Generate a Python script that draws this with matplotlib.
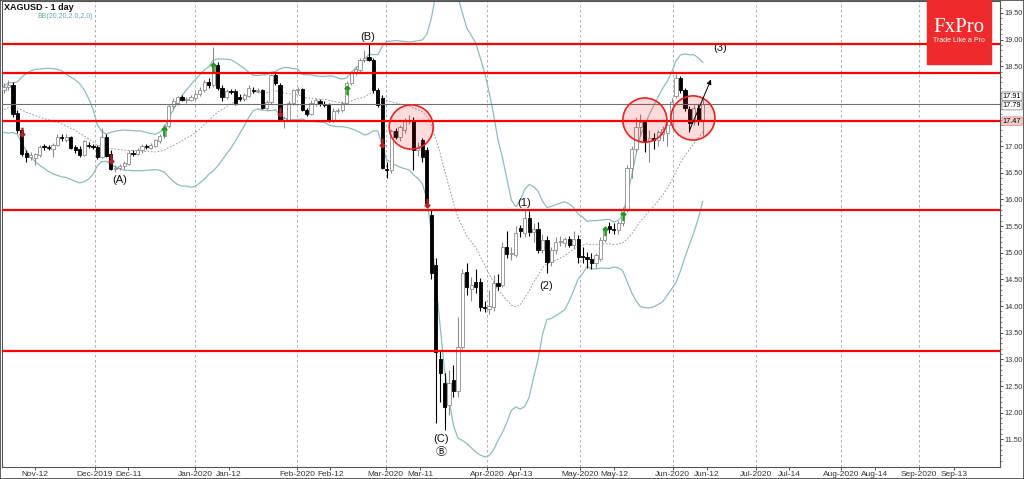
import numpy as np
import pandas as pd
import matplotlib
matplotlib.use('Agg')
import matplotlib.pyplot as plt
from matplotlib.patches import Ellipse, Rectangle

plt.rcParams['font.family'] = ['Liberation Sans', 'DejaVu Sans']

# daily XAGUSD bars, 1 Nov 2019 .. 9 Jun 2020 (index = bar number)
opens = [18.05, 18.12, 18.15, 17.62, 17.30, 16.88, 16.80, 16.78, 16.84, 16.99,
         16.98, 16.95, 17.03, 17.16, 17.12, 17.17, 16.98, 16.95, 16.84, 17.02,
         17.00, 16.98, 16.80, 17.18, 16.86, 16.58, 16.60, 16.63, 16.66, 16.87,
         16.85, 16.92, 17.00, 16.97, 17.00, 17.10, 17.20, 17.38, 17.76, 17.82,
         17.92, 17.86, 17.86, 17.90, 17.98, 18.06, 18.20, 18.15, 18.52, 18.10,
         17.92, 18.04, 18.04, 17.92, 17.88, 17.94, 18.06, 18.04, 18.05, 17.72,
         17.83, 18.33, 18.15, 17.49, 17.50, 17.81, 18.05, 18.07, 17.68, 17.60,
         17.80, 17.84, 17.80, 17.78, 17.49, 17.66, 17.68, 17.82, 18.19, 18.39,
         18.43, 18.62, 18.68, 18.62, 18.05, 17.90, 16.58, 16.56, 17.28, 17.18,
         17.30, 17.48, 17.50, 16.92, 17.12, 16.93, 15.71, 14.77, 13.00, 12.56,
         12.15, 12.62, 12.40, 13.24, 14.64, 14.32, 14.45, 14.45, 13.98, 13.95,
         13.98, 14.43, 14.40, 15.11, 14.97, 14.96, 15.46, 15.37, 15.65, 15.39,
         15.45, 15.05, 15.24, 14.83, 15.05, 15.20, 15.18, 15.26, 15.15, 15.26,
         14.93, 14.92, 14.88, 14.80, 14.88, 15.24, 15.50, 15.45, 15.42, 15.55,
         15.80, 16.60, 16.95, 17.36, 17.45, 17.10, 17.15, 17.12, 17.22, 17.25,
         17.40, 17.95, 18.28, 18.06, 17.70, 17.45, 17.72, 17.49]
highs = [18.18, 18.25, 18.20, 17.68, 17.32, 16.92, 16.90, 16.88, 17.02, 17.04,
         17.03, 17.06, 17.22, 17.22, 17.22, 17.20, 17.02, 17.00, 17.12, 17.08,
         17.05, 17.02, 17.34, 17.22, 16.92, 16.64, 16.66, 16.72, 16.92, 16.92,
         16.96, 17.05, 17.04, 17.06, 17.14, 17.22, 17.42, 17.80, 17.90, 17.95,
         17.96, 17.92, 17.96, 18.02, 18.12, 18.24, 18.28, 18.86, 18.58, 18.14,
         18.08, 18.08, 18.08, 17.98, 18.00, 18.14, 18.12, 18.10, 18.08, 17.86,
         18.36, 18.38, 18.18, 17.56, 17.84, 18.08, 18.12, 18.10, 17.72, 17.86,
         17.90, 17.88, 17.84, 17.82, 17.72, 17.72, 17.84, 18.22, 18.42, 18.50,
         18.66, 18.80, 18.94, 18.66, 18.10, 17.96, 16.70, 17.32, 17.34, 17.40,
         17.52, 17.59, 17.54, 17.08, 17.16, 16.98, 15.80, 14.90, 13.15, 12.75,
         12.80, 12.90, 13.80, 14.70, 14.80, 14.55, 14.70, 14.52, 14.10, 14.30,
         14.58, 14.60, 15.20, 15.40, 15.10, 15.50, 15.52, 15.82, 15.78, 15.55,
         15.58, 15.36, 15.32, 15.10, 15.30, 15.32, 15.30, 15.32, 15.40, 15.34,
         15.10, 15.02, 15.00, 15.00, 15.30, 15.50, 15.58, 15.56, 15.60, 15.86,
         16.65, 17.00, 17.55, 17.60, 17.50, 17.30, 17.24, 17.30, 17.38, 17.50,
         17.90, 18.35, 18.32, 18.10, 17.76, 17.78, 17.80, 17.91]
lows = [18.00, 18.05, 17.55, 17.25, 16.82, 16.70, 16.75, 16.65, 16.80, 16.93,
        16.92, 16.80, 17.00, 17.10, 17.08, 16.94, 16.88, 16.80, 16.82, 16.96,
        16.95, 16.76, 16.78, 16.80, 16.55, 16.52, 16.55, 16.58, 16.64, 16.82,
        16.83, 16.88, 16.95, 16.94, 16.98, 17.06, 17.15, 17.35, 17.70, 17.78,
        17.84, 17.82, 17.84, 17.86, 17.95, 18.02, 18.10, 18.12, 18.05, 17.85,
        17.88, 17.98, 17.78, 17.84, 17.85, 17.92, 18.00, 18.00, 17.70, 17.68,
        17.80, 18.15, 17.47, 17.35, 17.48, 17.78, 17.98, 17.66, 17.56, 17.58,
        17.76, 17.76, 17.74, 17.46, 17.46, 17.62, 17.64, 17.80, 18.15, 18.34,
        18.40, 18.58, 18.60, 18.00, 17.74, 16.58, 16.40, 16.50, 17.14, 17.10,
        17.24, 17.42, 16.55, 16.82, 16.70, 15.88, 14.50, 11.80, 12.20, 11.68,
        11.95, 12.30, 12.30, 13.20, 14.20, 14.10, 14.25, 13.90, 13.88, 13.86,
        13.90, 14.30, 14.36, 14.90, 14.86, 14.92, 15.30, 15.30, 15.32, 15.20,
        15.00, 15.00, 14.62, 14.75, 14.98, 15.12, 15.10, 15.10, 15.08, 14.80,
        14.80, 14.72, 14.70, 14.72, 14.84, 15.20, 15.38, 15.36, 15.36, 15.50,
        15.76, 16.40, 16.90, 17.20, 16.90, 16.70, 16.95, 17.00, 17.10, 17.00,
        17.36, 17.90, 18.00, 17.66, 17.26, 17.40, 17.40, 17.20]
closes = [18.12, 18.15, 17.60, 17.30, 16.85, 16.80, 16.83, 16.86, 16.99, 16.98,
          16.97, 17.03, 17.17, 17.15, 17.18, 16.96, 16.93, 16.84, 17.09, 17.00,
          16.98, 16.80, 17.18, 16.82, 16.58, 16.60, 16.63, 16.68, 16.87, 16.85,
          16.92, 17.00, 16.98, 17.03, 17.12, 17.20, 17.38, 17.76, 17.85, 17.92,
          17.86, 17.88, 17.93, 17.98, 18.06, 18.20, 18.15, 18.52, 18.10, 17.92,
          18.04, 18.02, 17.81, 17.88, 17.96, 18.10, 18.04, 18.06, 17.72, 17.83,
          18.33, 18.18, 17.49, 17.52, 17.81, 18.05, 18.07, 17.68, 17.60, 17.82,
          17.86, 17.80, 17.78, 17.49, 17.66, 17.68, 17.82, 18.19, 18.39, 18.45,
          18.62, 18.66, 18.62, 18.05, 17.77, 16.60, 16.56, 17.28, 17.18, 17.36,
          17.48, 17.50, 16.93, 16.96, 16.80, 15.93, 14.62, 13.14, 12.75, 12.11,
          12.56, 12.40, 13.24, 14.62, 14.36, 14.40, 14.36, 13.98, 13.96, 14.00,
          14.43, 14.38, 15.11, 14.97, 15.00, 15.37, 15.40, 15.65, 15.39, 15.45,
          15.05, 15.24, 14.83, 15.05, 15.20, 15.22, 15.26, 15.15, 15.26, 14.93,
          14.92, 14.88, 14.80, 14.95, 15.24, 15.43, 15.45, 15.42, 15.55, 15.80,
          16.60, 16.95, 17.36, 17.45, 17.08, 17.15, 17.12, 17.26, 17.32, 17.40,
          17.83, 18.28, 18.06, 17.72, 17.44, 17.72, 17.49, 17.79]
# October 2019 closes, only used to warm up BB(20)
warmup_closes = [17.55, 17.52, 17.48, 17.56, 17.62, 17.40, 17.55, 17.54, 17.50, 17.52,
                 17.55, 17.58, 17.72, 17.95, 17.85, 17.78, 17.88, 18.02, 18.10]

levels = [18.92, 18.37, 17.47, 15.80, 13.16]
last_price = 17.79
ask_price = 17.91
level_tag = 17.47

buy_idx = [36, 47, 77, 135, 139]
buy_px = [17.29, 18.49, 18.05, 15.41, 15.69]
sell_idx = [4, 24, 62, 85, 95]
sell_px = [17.27, 16.76, 17.64, 17.06, 15.94]

wave_txt = ['(A)', '(B)', '(C)', '\u24b7', '(1)', '(2)', '(3)']
wave_x = [26.1, 81.8, 98.2, 98.2, 116.9, 121.8, 160.9]
wave_y = [16.37, 19.05, 11.51, 11.26, 15.94, 14.38, 18.84]

circ_x = [91.5, 144.0, 154.8]
circ_y = [17.36, 17.49, 17.53]

month_pos = [20.45, 42.9, 65.8, 85.8, 108.5, 129.4, 150.3, 169.0, 188.1, 205.6]
month_lbl = ['Dec-2019', 'Jan-2020', 'Feb-2020', 'Mar-2020', 'Apr-2020',
             'May-2020', 'Jun-2020', 'Jul-2020', 'Aug-2020', 'Sep-2020']
mid_pos = [7.0, 27.9, 50.6, 73.3, 93.5, 116.0, 137.1, 158.0, 176.4, 195.7, 213.5]
mid_lbl = ['Nov-12', 'Dec-11', 'Jan-12', 'Feb-12', 'Mar-11', 'Apr-13',
           'May-12', 'Jun-12', 'Jul-14', 'Aug-14', 'Sep-13']

price_ticks = [11.5, 12.0, 12.5, 13.0, 13.5, 14.0, 14.5, 15.0, 15.5, 16.0,
               16.5, 17.0, 17.5, 18.0, 18.5, 19.0, 19.5]
covered = [17.5, 18.0]   # hidden behind the price tags

o = np.array(opens)
h = np.array(highs)
l = np.array(lows)
c = np.array(closes)
n = len(c)
x = np.arange(n)

# bollinger bands 20, 2
s = pd.Series(warmup_closes + closes)
mid = s.rolling(20).mean().values[len(warmup_closes):]
sd = s.rolling(20).std(ddof=0).values[len(warmup_closes):]
upper = mid + 2 * sd
lower = mid - 2 * sd

fig = plt.figure(figsize=(10.24, 4.79), dpi=100)
ax = fig.add_axes([2/1024, 12/479, 998/1024, 466/479])

for p in month_pos:
    ax.axvline(p, color='#a0a0a0', lw=0.6, ls=(0, (3, 3)), zorder=0)

ax.plot(x, upper, color='#8dbdbf', lw=0.9, zorder=1)
ax.plot(x, lower, color='#8dbdbf', lw=0.9, zorder=1)
ax.plot(x, mid, color='#8a8a8a', lw=0.6, ls=(0, (2, 2)), zorder=1)

up = c >= o
dn = ~up
body = np.maximum(np.abs(c - o), 0.02)
ax.vlines(x[up], l[up], h[up], color='#8c8c8c', lw=0.8, zorder=2)
ax.vlines(x[dn], l[dn], h[dn], color='black', lw=0.8, zorder=2)
ax.bar(x[up], body[up], bottom=np.minimum(o, c)[up], width=0.72,
       color='white', edgecolor='#8c8c8c', lw=0.6, zorder=3)
ax.bar(x[dn], body[dn], bottom=np.minimum(o, c)[dn], width=0.72,
       color='black', edgecolor='black', lw=0.6, zorder=3)

ax.plot(buy_idx, buy_px, ls='none', marker=r'$\uparrow$', ms=6, color='#1f9a1f', zorder=4)
ax.plot(sell_idx, sell_px, ls='none', marker=r'$\downarrow$', ms=6, color='#b22222', zorder=4)

for lv in levels:
    ax.axhline(lv, color='#ff0000', lw=1.6, zorder=5)
ax.axhline(last_price, color='#707070', lw=0.8, zorder=4)

for cx, cy in zip(circ_x, circ_y):
    ax.add_patch(Ellipse((cx, cy), 9.9, 0.83, facecolor=(1, 0, 0, 0.14),
                         edgecolor='#ee2222', lw=1.2, zorder=6))

ax.annotate('', xy=(159.1, 18.3), xytext=(153.8, 17.25),
            arrowprops=dict(arrowstyle='-|>', color='black', lw=0.7,
                            mutation_scale=7), zorder=7)

for t, wx, wy in zip(wave_txt, wave_x, wave_y):
    fam = ['Noto Sans CJK SC', 'DejaVu Sans'] if t == '\u24b7' else ['Liberation Sans', 'DejaVu Sans']
    ax.text(wx, wy, t, fontsize=8, ha='center', va='center', color='#111', family=fam)

ax.set_xlim(-0.45, 223.8)
ax.set_ylim(10.98, 19.725)

ax.yaxis.tick_right()
ax.set_yticks(price_ticks)
ax.set_yticklabels(['' if v in covered else '%.2f' % v for v in price_ticks])
ax.set_yticks(np.arange(11.1, 19.7, 0.1), minor=True)
ax.tick_params(axis='y', which='major', length=2.5, width=0.6, labelsize=5.3,
               colors='#333', pad=0.5)
ax.tick_params(axis='y', which='minor', length=1.5, width=0.5, colors='#555')

ax.set_xticks(month_pos + mid_pos)
ax.set_xticklabels(month_lbl + mid_lbl)
ax.tick_params(axis='x', length=2, width=0.6, labelsize=6, colors='#333', pad=1)

for sp in ax.spines.values():
    sp.set_color('#555')
    sp.set_linewidth(0.8)

box = dict(boxstyle='round,pad=0.12', fc='white', ec='#888', lw=0.6)
ax.annotate('%.2f' % ask_price, xy=(1.0, ask_price), xycoords=('axes fraction', 'data'),
            xytext=(2, 1), textcoords='offset points', fontsize=5.3, va='center',
            bbox=box, zorder=8, annotation_clip=False)
ax.annotate('%.2f' % last_price, xy=(1.0, last_price), xycoords=('axes fraction', 'data'),
            xytext=(2, -1), textcoords='offset points', fontsize=5.3, va='center',
            bbox=box, zorder=8, annotation_clip=False)
ax.annotate('%.2f' % level_tag, xy=(1.0, level_tag), xycoords=('axes fraction', 'data'),
            xytext=(2, 0), textcoords='offset points', fontsize=5.3, va='center',
            bbox=dict(boxstyle='round,pad=0.12', fc='#f5c9c9', ec='#d99', lw=0.6),
            zorder=8, annotation_clip=False)

fig.text(4/1024, 1 - 8/479, 'XAGUSD - 1 day', fontsize=6.5, fontweight='bold',
         va='center', color='#111')
fig.text(37/1024, 1 - 16/479, 'BB(20,20,2.0,2.0)', fontsize=5, va='center',
         color='#6aa8aa')

fig.add_artist(Rectangle((927/1024, 1 - 64/479), 64/1024, 64/479,
                         transform=fig.transFigure, color='#ee2a2c', zorder=10))
fig.text(959/1024, 1 - 28/479, 'FxPro', fontsize=15, color='white', ha='center',
         va='center', family='Liberation Serif', zorder=11)
fig.text(959/1024, 1 - 41/479, 'Trade Like a Pro', fontsize=5, color='white',
         ha='center', va='center', zorder=11)

fig.add_artist(Rectangle((0, 0), 1, 1, transform=fig.transFigure, fill=False,
                         ec='#444', lw=1.2))

fig.savefig('out.png', dpi=100)
